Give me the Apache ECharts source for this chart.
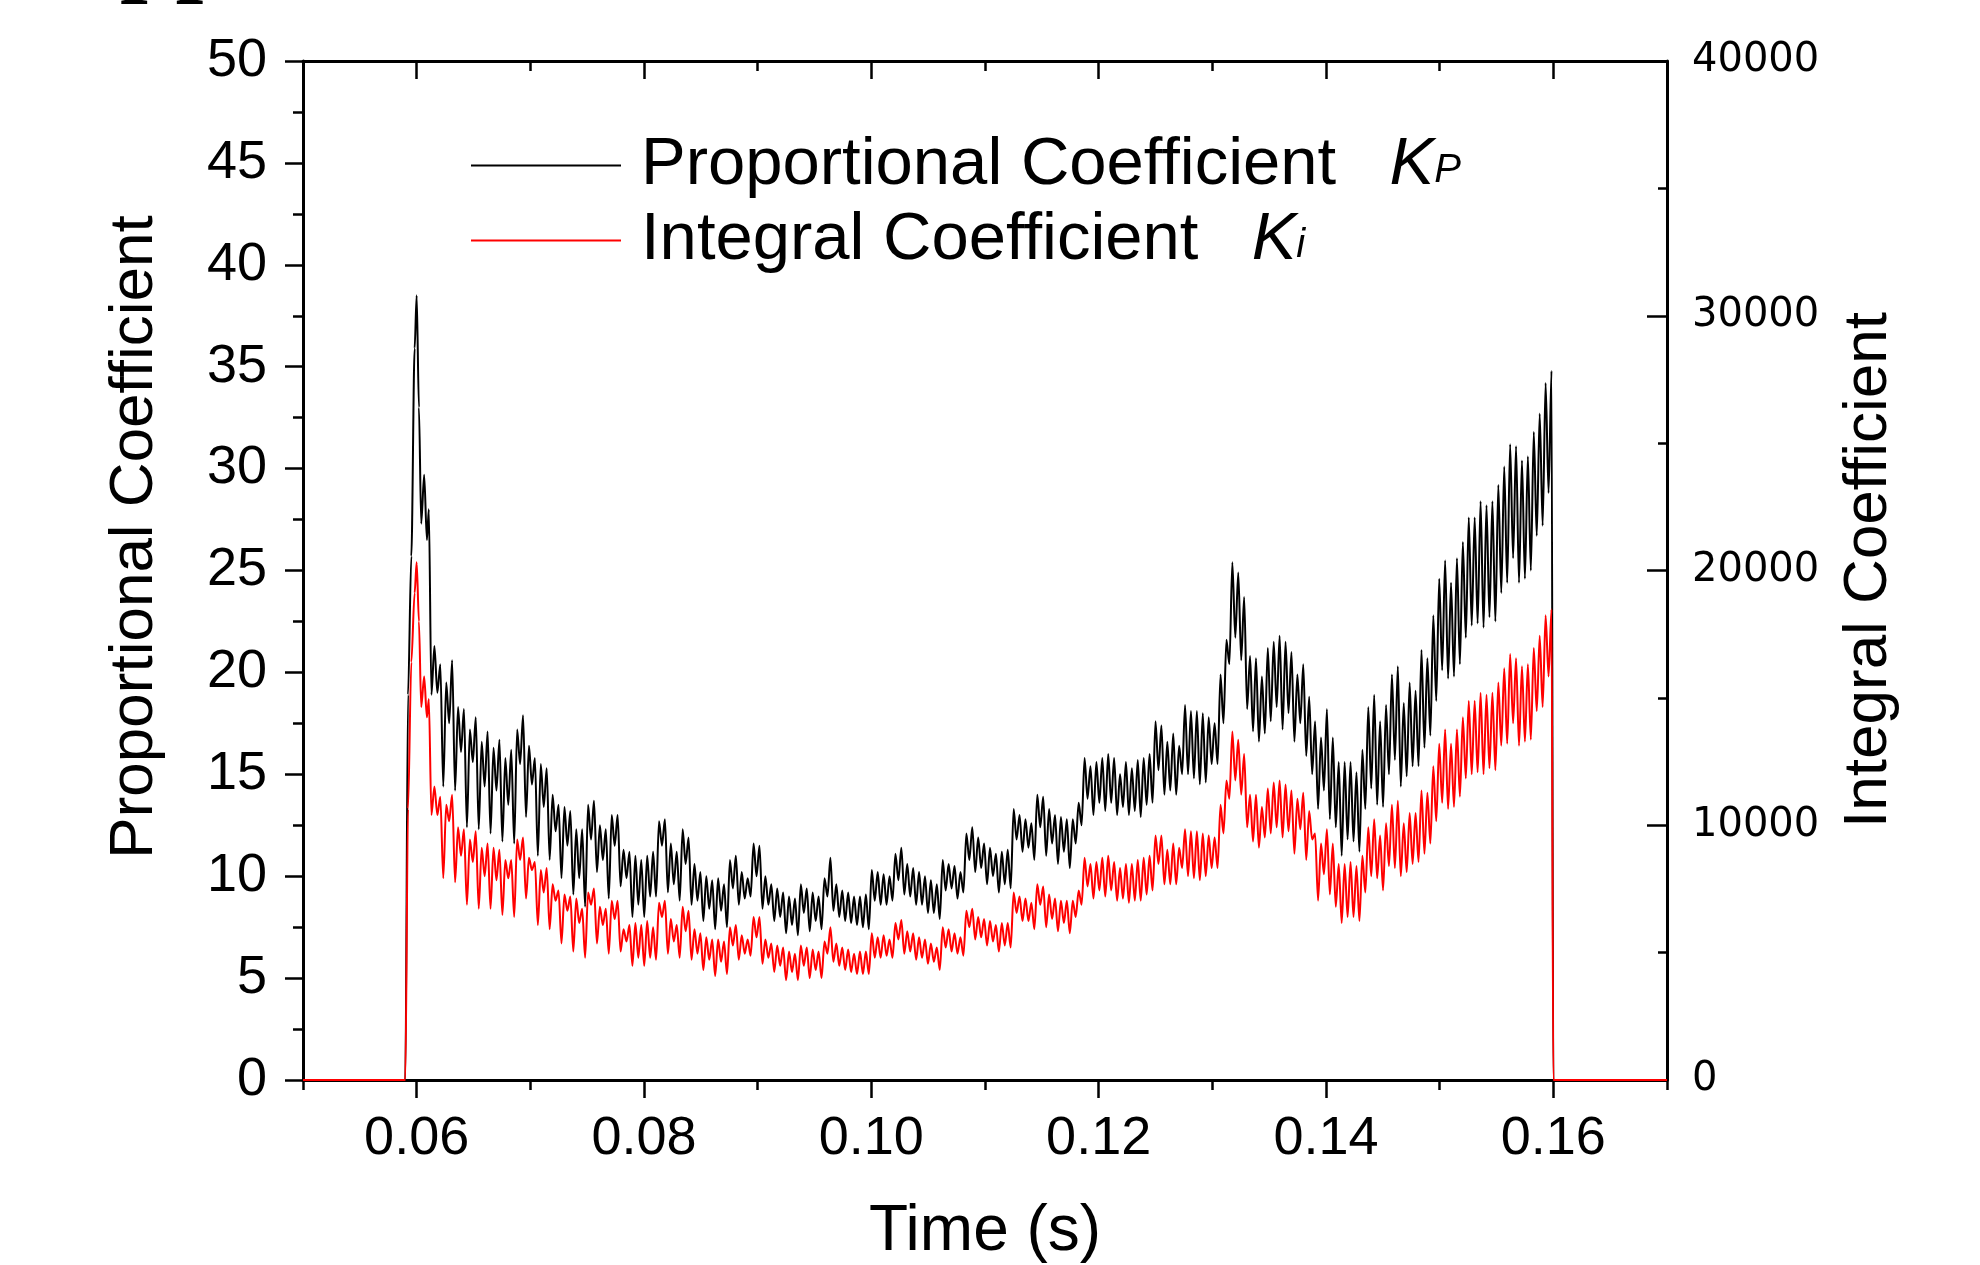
<!DOCTYPE html>
<html><head><meta charset="utf-8">
<script src="https://cdn.jsdelivr.net/npm/echarts@6/dist/echarts.min.js"></script>
<style>html,body{margin:0;padding:0;background:#fff}#c{width:1980px;height:1265px}</style>
</head><body><div id="c"></div>
<script>
// ---- data ----
const xMajorTicks = [0.06, 0.08, 0.10, 0.12, 0.14, 0.16];
const headTime = [0.05, 0.0590, 0.05924, 0.05953, 0.05982, 0.0600, 0.0602, 0.0604, 0.06066, 0.0609, 0.06107];
const kpHead = [0, 0, 18.9, 25.7, 35.9, 38.5, 33.0, 27.3, 29.7, 26.5, 28.0];
const kiHead = [0, 0, 10640, 16400, 19120, 20320, 18000, 14640, 15840, 14240, 14960];
const cycleStart = 0.0613;   // first sample time of the ripple section (s)
const sampleStep = 0.00026;  // sample spacing (s)
const kpRipple = [
18.9,21.3,19.0,20.4, 14.4,19.5,17.5,20.6, 14.2,18.3,16.1,18.2, 12.4,17.2,15.6,17.8,
12.3,16.6,14.4,17.1, 12.1,16.3,14.2,16.7, 11.7,15.8,13.5,16.2, 11.6,17.2,15.5,17.9,
12.9,16.4,14.5,15.8, 11.0,15.5,13.4,15.3, 10.8,14.0,12.2,13.5, 9.9,13.4,11.5,13.2,
9.1,12.3,9.9,12.3, 8.5,13.5,11.8,13.7, 10.2,12.5,10.8,12.3, 8.9,13.0,11.5,13.0,
9.5,11.3,9.9,11.2, 8.0,11.0,8.6,10.8, 8.0,11.0,9.0,11.2, 9.0,12.7,11.5,12.8,
9.2,11.6,9.6,11.2, 8.8,12.3,10.6,11.9, 8.6,10.6,8.8,10.2, 7.8,10.0,8.4,9.8,
7.4,9.9,8.3,9.6, 7.5,10.8,9.4,11.0, 8.6,10.2,8.9,9.9, 9.0,11.6,10.0,11.5,
8.4,10.0,8.6,9.6, 7.8,9.4,8.0,9.2, 7.2,9.0,7.6,8.9, 7.1,9.6,8.2,9.4,
7.3,9.2,7.8,9.0, 7.4,9.9,9.0,10.9, 8.3,9.6,8.0,9.3, 7.8,9.2,7.7,9.0,
7.6,9.0,7.5,9.1, 7.4,10.3,8.8,10.2, 8.6,10.1,8.6,10.0, 8.8,11.1,9.8,11.4,
9.1,10.6,9.0,10.4, 8.6,10.2,8.6,10.0, 8.2,9.8,8.2,9.6, 7.9,10.8,9.3,10.6,
9.4,10.5,8.9,10.2, 9.2,12.1,10.8,12.4, 10.2,11.9,10.4,11.6, 9.6,11.4,10.0,11.1,
9.2,11.2,9.6,11.3, 9.4,13.3,11.8,13.0, 11.2,12.8,11.4,12.6, 10.8,14.0,12.4,13.9,
11.0,13.3,11.6,13.0, 10.6,12.9,11.2,12.8, 10.4,12.8,11.6,13.6, 12.5,15.8,13.8,15.4,
13.0,15.6,13.6,15.8, 13.2,16.0,13.6,15.8, 13.0,15.0,13.4,15.6, 13.0,15.3,13.2,15.7,
12.9,15.8,13.5,16.0, 13.6,17.6,15.2,17.4, 14.0,16.6,14.2,17.0, 14.0,16.4,15.0,18.4,
15.0,18.1,14.8,18.1, 14.5,18.0,14.6,17.8, 15.5,17.5,15.5,19.9, 17.5,21.6,20.4,25.4,
21.7,24.9,20.6,23.7, 18.2,20.8,17.1,20.7, 16.6,19.8,17.0,21.2, 17.6,21.5,18.3,21.8,
17.2,21.5,18.0,21.0, 16.6,19.9,17.5,20.4, 15.9,18.8,15.0,17.6, 13.3,16.8,14.2,18.2,
12.8,16.8,12.4,15.6, 11.0,15.6,11.8,15.6, 11.7,15.1,11.2,16.2, 13.3,18.3,14.3,18.9,
13.5,17.6,13.4,18.4, 15.0,19.9,15.7,20.3, 14.4,18.5,14.9,19.5, 15.4,19.1,15.4,21.1,
16.3,20.7,16.9,22.8, 18.6,24.6,20.1,25.5, 19.7,24.4,19.8,25.6, 20.4,26.4,21.7,27.6,
22.3,27.6,22.4,28.4, 22.2,28.2,22.7,28.4, 22.5,29.2,23.9,30.1, 24.4,31.2,25.6,31.1,
24.4,30.4,24.6,30.6, 25.0,31.8,26.7,32.7, 27.2,34.2,28.8,34.8
];
const kiRipple = [
10400,11520,10400,11120, 7920,10800,10160,11200, 7760,9920,8800,9840, 6880,9440,8560,9760,
6720,9120,8000,9280, 6720,9120,7840,9040, 6480,8640,7920,8640, 6400,9440,8640,9520,
7120,8720,8240,8560, 6080,8240,7360,8320, 5920,7680,7040,7440, 5360,7280,6640,7200,
5040,7120,6160,6720, 4800,7360,6880,7520, 5360,6800,6080,6720, 4960,7040,6320,7040,
5040,5920,5440,6080, 4480,6160,4800,6080, 4480,6240,4800,6000, 4720,6960,6400,7040,
4960,6320,5440,6080, 4800,6800,5840,6640, 4720,5920,4960,5760, 4320,5600,4720,5520,
4080,5520,4640,5440, 4160,6000,5280,6080, 4720,5680,4960,5520, 4880,6400,5600,6400,
4560,5520,4800,5360, 4240,5280,4480,5200, 3920,5040,4240,4960, 3920,5280,4480,5200,
4000,5120,4320,5040, 4000,5440,4960,6000, 4640,5360,4480,5200, 4320,5120,4240,4960,
4160,5040,4160,5040, 4160,5760,4800,5600, 4800,5680,4880,5520, 4800,6160,5520,6280,
4960,5840,5040,5760, 4720,5600,4800,5520, 4560,5360,4640,5200, 4320,6000,5200,5920,
5040,5760,4960,5600, 4880,6640,6000,6720, 5520,6400,5600,6320, 5280,6240,5440,6080,
5040,6160,5280,6160, 5200,7360,6560,7200, 6240,7120,6240,6960, 5920,7680,6880,7600,
6000,7280,6320,7120, 5840,7040,6160,7040, 5760,7040,6400,7440, 6880,8720,7600,8480,
7120,8560,7440,8720, 7200,8800,7440,8560, 7040,8320,7120,8480, 6960,8480,7040,8640,
7040,8720,7280,8800, 7440,9600,8480,9600, 7680,9040,7680,9280, 7680,9120,8320,9840,
8000,9760,7920,9760, 7840,9680,8000,9600, 8320,9520,8320,10800, 9680,11760,11040,13680,
11760,13360,11200,12800, 9920,11200,9360,11200, 9120,10720,9520,11440, 9680,11680,9920,11760,
9520,11600,9760,11360, 8880,11040,9840,11280, 8640,10560,9440,9680, 7040,9280,8080,9840,
7280,9280,6800,8480, 6160,8480,6400,8560, 6400,8400,6240,8800, 7360,9920,8000,10240,
7920,9600,7440,10080, 8400,10800,8320,10960, 8000,10080,8160,10480, 8480,10480,8560,11360,
8880,11280,9280,12320, 10160,13200,10880,13760, 10640,13200,10720,13760, 11120,14240,11840,14880,
12000,14880,12080,15200, 12000,15120,12240,15200, 12160,15600,13120,16160, 13200,16720,14000,16560,
13120,16240,13280,16320, 13360,16960,14480,17440, 14640,18240,15840,18480
];
const tailTime = [0.16, 0.17];
const kpTail = [0, 0];
const kiTail = [0, 0];

function build(head, ripple, tail) {
  const out = [];
  headTime.forEach((t, i) => out.push([t, head[i]]));
  ripple.forEach((v, i) => out.push([+(cycleStart + i * sampleStep).toFixed(5), v]));
  tailTime.forEach((t, i) => out.push([t, tail[i]]));
  return out;
}

const FONT = 'Liberation Sans';
const chart = echarts.init(document.getElementById('c'), null, {renderer: 'canvas'});
const baseX = {type: 'value', min: 0.05, max: 0.17, splitLine: {show: false}};
const axLine = {show: true, onZero: false, lineStyle: {color: '#000', width: 3}};

chart.setOption({
  backgroundColor: '#fff',
  animation: false,
  grid: {left: 303, right: 313, top: 61, bottom: 185, containLabel: false},
  xAxis: [
    Object.assign({}, baseX, {position: 'bottom', interval: 0.01, axisLine: axLine,
      axisTick: {show: true, length: 10, lineStyle: {color: '#000', width: 2.5}}, axisLabel: {show: false}}),
    Object.assign({}, baseX, {position: 'bottom', axisLine: {show: false, onZero: false},
      axisTick: {show: true, length: 18, customValues: xMajorTicks, lineStyle: {color: '#000', width: 2.5}},
      axisLabel: {show: true, customValues: xMajorTicks, formatter: v => v.toFixed(2), fontSize: 54, fontFamily: FONT, color: '#000', margin: 32}}),
    Object.assign({}, baseX, {position: 'top', interval: 0.01, axisLine: axLine,
      axisTick: {show: true, inside: true, length: 10, lineStyle: {color: '#000', width: 2.5}}, axisLabel: {show: false}}),
    Object.assign({}, baseX, {position: 'top', axisLine: {show: false, onZero: false},
      axisTick: {show: true, inside: true, length: 18, customValues: xMajorTicks, lineStyle: {color: '#000', width: 2.5}}, axisLabel: {show: false}})
  ],
  yAxis: [
    {type: 'value', position: 'left', min: 0, max: 50, interval: 5, axisLine: axLine,
      axisTick: {show: true, length: 18, lineStyle: {color: '#000', width: 2.5}},
      minorTick: {show: true, splitNumber: 2, length: 10, lineStyle: {color: '#000', width: 2.5}},
      axisLabel: {fontSize: 54, fontFamily: FONT, color: '#000', margin: 36},
      splitLine: {show: false}, minorSplitLine: {show: false}},
    {type: 'value', position: 'right', min: 0, max: 40000, interval: 10000, axisLine: axLine,
      axisTick: {show: true, inside: true, length: 20, lineStyle: {color: '#000', width: 2.5}},
      minorTick: {show: true, splitNumber: 2, length: 9, lineStyle: {color: '#000', width: 2.5}},
      axisLabel: {fontSize: 40, fontFamily: 'DejaVu Sans', color: '#000', margin: 25, formatter: v => String(v)},
      splitLine: {show: false}, minorSplitLine: {show: false}}
  ],
  legend: {
    left: 471, top: 132, orient: 'vertical', padding: 0, itemWidth: 150, itemHeight: 2, itemGap: 8,
    icon: 'rect', selectedMode: false, data: ['Kp', 'Ki'],
    formatter: n => n === 'Kp' ? '{a|Proportional Coefficient  }{k|K}{s|P}' : '{a|Integral Coefficient  }{k|K}{s|i}',
    textStyle: {fontSize: 67, fontFamily: FONT, color: '#000',
      rich: {
        a: {fontSize: 67, fontFamily: FONT, color: '#000', padding: [0, 0, 0, 15], lineHeight: 67},
        k: {fontSize: 67, fontFamily: FONT, fontStyle: 'italic', color: '#000', lineHeight: 67, padding: [0, 0, 0, 16]},
        s: {fontSize: 40, fontFamily: FONT, fontStyle: 'italic', color: '#000', verticalAlign: 'bottom', lineHeight: 40, padding: [0, 0, 8, 0]}
      }}
  },
  graphic: [
    {type: 'text', x: 135, y: 537, rotation: Math.PI / 2,
      style: {text: 'Proportional Coefficient', fontSize: 62, fontFamily: FONT, fill: '#000', align: 'center', verticalAlign: 'middle'}},
    {type: 'text', x: 1869, y: 570, rotation: Math.PI / 2,
      style: {text: 'Integral Coefficient', fontSize: 62, fontFamily: FONT, fill: '#000', align: 'center', verticalAlign: 'middle'}},
    {type: 'text', x: 985, y: 1232,
      style: {text: 'Time (s)', fontSize: 64, fontFamily: FONT, fill: '#000', align: 'center', verticalAlign: 'middle'}},
    {type: 'text', x: 120, y: -43,
      style: {text: 'pp', fontSize: 100, fontFamily: 'Liberation Serif', fontWeight: 'bold', fill: '#000', align: 'left', verticalAlign: 'middle'}}
  ],
  series: [
    {name: 'Kp', type: 'line', xAxisIndex: 0, yAxisIndex: 0, data: build(kpHead, kpRipple, kpTail),
      symbol: 'none', smooth: 0.3, smoothMonotone: 'x', lineStyle: {color: '#000', width: 2}, itemStyle: {color: '#000'}, z: 2},
    {name: 'Ki', type: 'line', xAxisIndex: 0, yAxisIndex: 1, data: build(kiHead, kiRipple, kiTail),
      symbol: 'none', smooth: 0.3, smoothMonotone: 'x', lineStyle: {color: '#ff0000', width: 2}, itemStyle: {color: '#ff0000'}, z: 3}
  ]
});
</script></body></html>
